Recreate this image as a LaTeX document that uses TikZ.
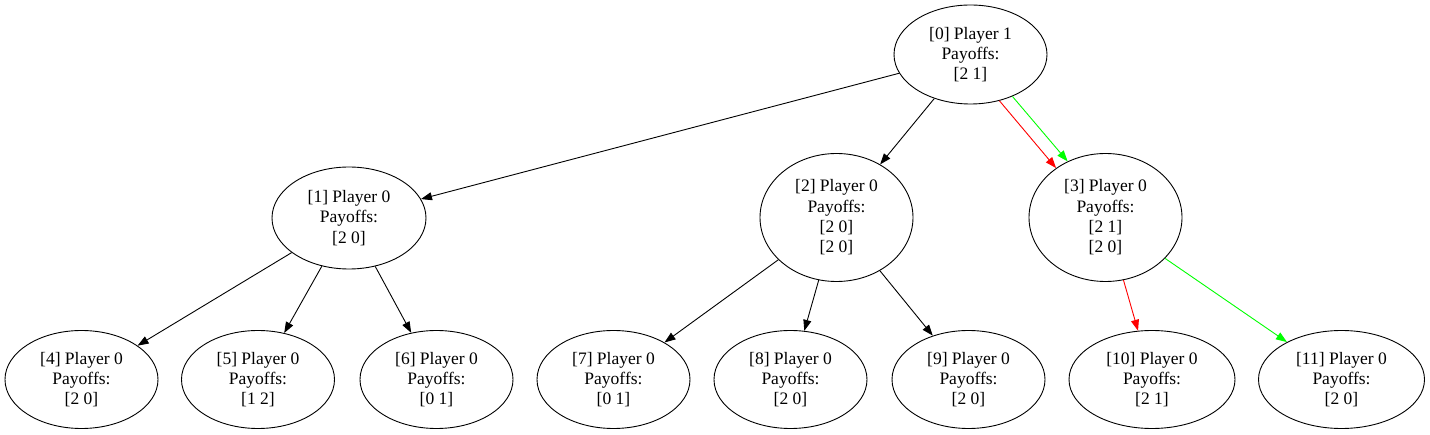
\documentclass[tikz,border=0pt]{standalone}
\usepackage{fontspec}
\setmainfont{Liberation Serif}
\usetikzlibrary{shapes.geometric,arrows.meta}
\tikzset{
  gnode/.style={draw, ellipse, line width=0.9pt, inner sep=0pt, align=center,
    font=\fontsize{17.5pt}{20.3pt}\selectfont, minimum width=153pt, minimum height=98pt},
  tall/.style={minimum height=128pt},
  wide/.style={minimum width=166pt},
  edge/.style={line width=0.9pt, -{Triangle[length=11pt,width=8pt]}},
}
\begin{document}
\begin{tikzpicture}[x=1pt,y=1pt]
\useasboundingbox (0,0) rectangle (1430,-435);
\node[gnode, minimum height=99pt] (n0) at (970.5,-54.5) {[0] Player 1\\Payoffs:\\{[2 1]}};
\node[gnode, minimum width=154pt, minimum height=102pt] (n1) at (349,-218) {[1] Player 0\\Payoffs:\\{[2 0]}};
\node[gnode, tall] (n2) at (836.5,-217.5) {[2] Player 0\\Payoffs:\\{[2 0]}\\{[2 0]}};
\node[gnode, tall] (n3) at (1105.5,-217.5) {[3] Player 0\\Payoffs:\\{[2 1]}\\{[2 0]}};
\node[gnode] (n4) at (81.5,-379.5) {[4] Player 0\\Payoffs:\\{[2 0]}};
\node[gnode] (n5) at (258,-379.5) {[5] Player 0\\Payoffs:\\{[1 2]}};
\node[gnode] (n6) at (436.5,-379.5) {[6] Player 0\\Payoffs:\\{[0 1]}};
\node[gnode] (n7) at (613.5,-379.5) {[7] Player 0\\Payoffs:\\{[0 1]}};
\node[gnode] (n8) at (790.5,-379.5) {[8] Player 0\\Payoffs:\\{[2 0]}};
\node[gnode] (n9) at (968.5,-379.5) {[9] Player 0\\Payoffs:\\{[2 0]}};
\node[gnode, wide] (n10) at (1152,-379.5) {[10] Player 0\\Payoffs:\\{[2 1]}};
\node[gnode, wide] (n11) at (1341.5,-379.5) {[11] Player 0\\Payoffs:\\{[2 0]}};
\draw[edge] (n0) -- (n1);
\draw[edge] (n0) -- (n2);
\draw[edge, red] (n0.-58) -- (n3.135);
\draw[edge, green] (n0.-45) -- (n3.124);
\draw[edge] (n1) -- (n4);
\draw[edge] (n1) -- (n5);
\draw[edge] (n1) -- (n6);
\draw[edge] (n2) -- (n7);
\draw[edge] (n2) -- (n8);
\draw[edge] (n2) -- (n9);
\draw[edge, red] (n3) -- (n10);
\draw[edge, green] (n3) -- (n11);
\end{tikzpicture}
\end{document}
